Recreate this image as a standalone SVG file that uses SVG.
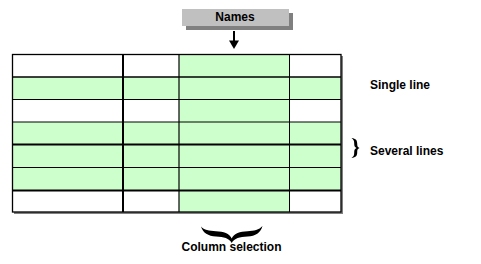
<svg xmlns="http://www.w3.org/2000/svg" width="481" height="264" viewBox="0 0 481 264">
<style>
  .lbl { font-family: "Liberation Sans", Arial, sans-serif; font-size: 12px; font-weight: bold; fill: #000; }
  .g { fill: #CCFFCC; }
  .w { fill: #FFFFFF; }
  .ln { stroke: #000; fill: none; }
  .shadow { fill: #808080; }
</style>
<rect width="481" height="264" fill="#FFFFFF"/>

<g id="names">
  <rect class="shadow" x="186" y="13" width="107" height="17"/>
  <rect x="182" y="9" width="107" height="17" fill="#C0C0C0"/>
  <text class="lbl" x="235" y="20.5" text-anchor="middle">Names</text>
</g>

<g id="table">
  <rect class="shadow" x="14" y="56" width="329" height="158"/>
  <rect class="w" x="12.5" y="54.5" width="328.5" height="157.5"/>
  <rect class="g" x="12.5" y="77" width="328.5" height="22.5"/>
  <rect class="g" x="12.5" y="122" width="328.5" height="68"/>
  <rect class="g" x="179" y="54.5" width="110" height="157.5"/>
  <g class="ln">
    <line x1="12.5" y1="77" x2="341" y2="77" stroke-width="1.3"/>
    <line x1="12.5" y1="99.5" x2="341" y2="99.5" stroke-width="1"/>
    <line x1="12.5" y1="122" x2="341" y2="122" stroke-width="1"/>
    <line x1="12.5" y1="144.5" x2="341" y2="144.5" stroke-width="1.8"/>
    <line x1="12.5" y1="167.5" x2="341" y2="167.5" stroke-width="1"/>
    <line x1="12.5" y1="190.5" x2="341" y2="190.5" stroke-width="2"/>
    <line x1="123" y1="54.5" x2="123" y2="212" stroke-width="2"/>
    <line x1="179" y1="54.5" x2="179" y2="212" stroke-width="1.2"/>
    <line x1="289.5" y1="54.5" x2="289.5" y2="212" stroke-width="1"/>
    <rect x="12.5" y="54.5" width="328.5" height="157.5" stroke-width="1.3"/>
  </g>
</g>

<g id="connectors">
  <line x1="234" y1="31" x2="234" y2="42" stroke="#000" stroke-width="2"/>
  <polygon points="229,40.5 239,40.5 234,49" fill="#000"/>
</g>

<g id="single-line">
  <text class="lbl" x="370" y="88.5">Single line</text>
</g>

<g id="several-lines">
  <path fill="#000" d="M351.5,138 C356,138.5 357.2,140.5 357.2,143.5 C357.2,146 357.5,147.3 359.5,148 C357.5,148.7 357.2,150 357.2,152.5 C357.2,155.5 356,157.5 351.5,158 C353.8,156.5 354.2,155 354.2,152.5 C354.2,150 354.8,148.7 356.5,148 C354.8,147.3 354.2,146 354.2,143.5 C354.2,141 353.8,139.5 351.5,138 Z"/>
  <text class="lbl" x="370" y="155">Several lines</text>
</g>

<g id="column-selection">
  <path fill="#000" d="M201,226.5 C203,233 208,236 216,236.5 C224,237 229,238 231.7,243 C234.5,238 239.5,237 247.5,236.5 C255.5,236 260.5,233 262.5,226 C259,230 254,231 247.5,231.2 C240,231.5 234,233 231.7,238.5 C229.5,233 223.5,231.5 216,231.2 C209,231 204,230 201,226.5 Z"/>
  <text class="lbl" x="181.5" y="250.5">Column selection</text>
</g>
</svg>
